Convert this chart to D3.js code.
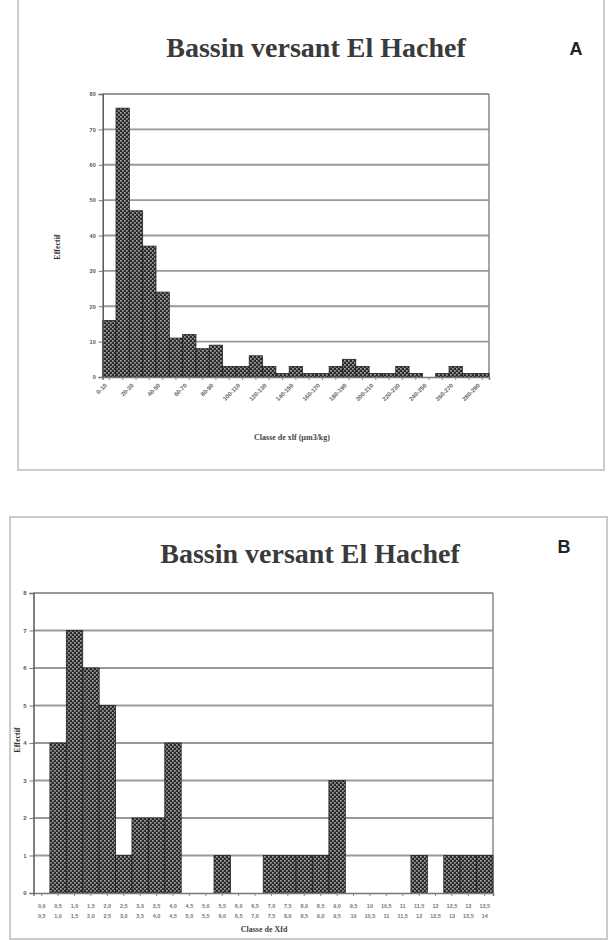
<!DOCTYPE html>
<html><head><meta charset="utf-8">
<script src="https://cdn.jsdelivr.net/npm/d3@7"></script>
<style>body{margin:0;background:#fff} svg{display:block}</style>
</head><body><svg id="c" width="608" height="940"></svg>
<script>
const chartTitle = "Bassin versant El Hachef";

// Chart A
const catsA = ["0-10","10-20","20-30","30-40","40-50","50-60","60-70","70-80","80-90","90-100",
  "100-110","110-120","120-130","130-140","140-150","150-160","160-170","170-180","180-190","190-200",
  "200-210","210-220","220-230","230-240","240-250","250-260","260-270","270-280","280-290"];
const valsA = [16,76,47,37,24,11,12,8,9,3,3,6,3,1,3,1,1,3,5,3,1,1,3,1,0,1,3,1,1];
const ticksA = [0,10,20,30,40,50,60,70,80];

// Chart B
const catsBTop = ["0,0","0,5","1,0","1,5","2,0","2,5","3,0","3,5","4,0","4,5","5,0","5,5","6,0","6,5",
  "7,0","7,5","8,0","8,5","9,0","9,5","10","10,5","11","11,5","12","12,5","13","13,5"];
const catsBBot = ["0,5","1,0","1,5","2,0","2,5","3,0","3,5","4,0","4,5","5,0","5,5","6,0","6,5","7,0",
  "7,5","8,0","8,5","9,0","9,5","10","10,5","11","11,5","12","12,5","13","13,5","14"];
const valsB = [0,4,7,6,5,1,2,2,4,0,0,1,0,0,1,1,1,1,3,0,0,0,0,1,0,1,1,1];
const ticksB = [0,1,2,3,4,5,6,7,8];

const svg = d3.select("#c");
const defs = svg.append("defs");
const pat = defs.append("pattern").attr("id","chk").attr("patternUnits","userSpaceOnUse")
  .attr("width",4).attr("height",4);
pat.append("rect").attr("width",4).attr("height",4).attr("fill","#2a2a2a");
pat.append("rect").attr("x",0).attr("y",0).attr("width",1.7).attr("height",1.7).attr("fill","#a0a0a0");
pat.append("rect").attr("x",2).attr("y",2).attr("width",1.7).attr("height",1.7).attr("fill","#a0a0a0");

const serif = "'Liberation Serif','DejaVu Serif',serif";
const sans = "'Liberation Sans','DejaVu Sans',sans-serif";

// frames
svg.append("rect").attr("x",18).attr("y",-2).attr("width",586).attr("height",472)
  .attr("fill","none").attr("stroke","#bbb").attr("stroke-width",1.5);
svg.append("rect").attr("x",10).attr("y",517).attr("width",597).attr("height",422)
  .attr("fill","none").attr("stroke","#bbb").attr("stroke-width",1.5);

function drawChart(o){
  const g = svg.append("g");
  const x = d3.scaleBand().domain(o.cats.map((d,i)=>i)).range([o.left,o.right]).paddingInner(0).paddingOuter(0);
  const y = d3.scaleLinear().domain([0,o.ymax]).range([o.bottom,o.top]);
  g.selectAll(".grid").data(o.ticks.filter(t=>t>0)).join("line")
    .attr("x1",o.left).attr("x2",o.right).attr("y1",d=>y(d)).attr("y2",d=>y(d))
    .attr("stroke","#999").attr("stroke-width",1.8);
  g.append("line").attr("x1",o.right).attr("x2",o.right).attr("y1",o.top).attr("y2",o.bottom)
    .attr("stroke","#888").attr("stroke-width",1.5);
  g.selectAll(".bar").data(o.vals).join("rect")
    .attr("x",(d,i)=>x(i)).attr("width",x.bandwidth())
    .attr("y",d=>y(d)).attr("height",d=>o.bottom-y(d))
    .attr("fill","url(#chk)").attr("stroke","#222").attr("stroke-width",0.8);
  const ya = d3.axisLeft(y).tickValues(o.ticks).tickSize(4).tickFormat(d3.format("d"));
  const yg = g.append("g").attr("transform",`translate(${o.left},0)`).call(ya);
  yg.select(".domain").attr("stroke","#555").attr("stroke-width",1.5);
  yg.selectAll(".tick line").attr("stroke","#777");
  yg.selectAll("text").attr("font-family",sans).attr("font-size",o.tickFont).attr("fill","#555").attr("font-weight","bold");
  const xa = d3.axisBottom(x).tickSize(3).tickFormat(()=> "");
  const xg = g.append("g").attr("transform",`translate(0,${o.bottom})`).call(xa);
  xg.select(".domain").attr("stroke","#777").attr("stroke-width",1.5);
  xg.selectAll(".tick line").attr("stroke","#888");
  svg.append("text").attr("x",o.titleX).attr("y",o.titleY).attr("text-anchor","middle")
    .attr("font-family",serif).attr("font-weight","bold").attr("font-size",28).attr("fill","#3a3a3a")
    .text(chartTitle);
  svg.append("text").attr("x",o.letterX).attr("y",o.letterY).attr("text-anchor","middle")
    .attr("font-family",sans).attr("font-weight","bold").attr("font-size",18).attr("fill","#222")
    .text(o.letter);
  svg.append("text").attr("transform",`translate(${o.ylabX},${o.ylabY}) rotate(-90)`)
    .attr("text-anchor","middle").attr("font-family",serif).attr("font-weight","bold")
    .attr("font-size",8).attr("fill","#333").text("Effectif");
  svg.append("text").attr("x",o.xlabX).attr("y",o.xlabY).attr("text-anchor","middle")
    .attr("font-family",serif).attr("font-weight","bold").attr("font-size",8).attr("fill","#444")
    .text(o.xlab);
  return {x,y,xg};
}

const A = drawChart({cats:catsA, vals:valsA, ticks:ticksA, ymax:80,
  left:102.7, right:489, top:94, bottom:377, tickFont:5.5,
  titleX:316, titleY:57, letter:"A", letterX:576, letterY:55,
  ylabX:60, ylabY:247, xlabX:292, xlabY:440, xlab:"Classe de xlf (µm3/kg)"});
A.xg.selectAll(".lblA").data(catsA.map((d,i)=>({d,i})).filter(o=>o.i%2===0)).join("text")
  .attr("transform",o=>`translate(${A.x(o.i)+A.x.bandwidth()/2-2},${9}) rotate(-45)`)
  .attr("text-anchor","end").attr("font-family",sans).attr("font-size",6).attr("font-weight","bold")
  .attr("fill","#666").text(o=>o.d);

const B = drawChart({cats:catsBTop, vals:valsB, ticks:ticksB, ymax:8,
  left:33.5, right:493, top:593, bottom:893, tickFont:6,
  titleX:310, titleY:563, letter:"B", letterX:564, letterY:553,
  ylabX:20, ylabY:740, xlabX:264, xlabY:932, xlab:"Classe de Xfd"});
B.xg.selectAll(".lblB1").data(catsBTop).join("text")
  .attr("x",(d,i)=>B.x(i)+B.x.bandwidth()/2).attr("y",15).attr("text-anchor","middle")
  .attr("font-family",sans).attr("font-size",5.5).attr("font-weight","bold").attr("fill","#777").text(d=>d);
B.xg.selectAll(".lblB2").data(catsBBot).join("text")
  .attr("x",(d,i)=>B.x(i)+B.x.bandwidth()/2).attr("y",25).attr("text-anchor","middle")
  .attr("font-family",sans).attr("font-size",5.5).attr("font-weight","bold").attr("fill","#777").text(d=>d);
</script></body></html>
